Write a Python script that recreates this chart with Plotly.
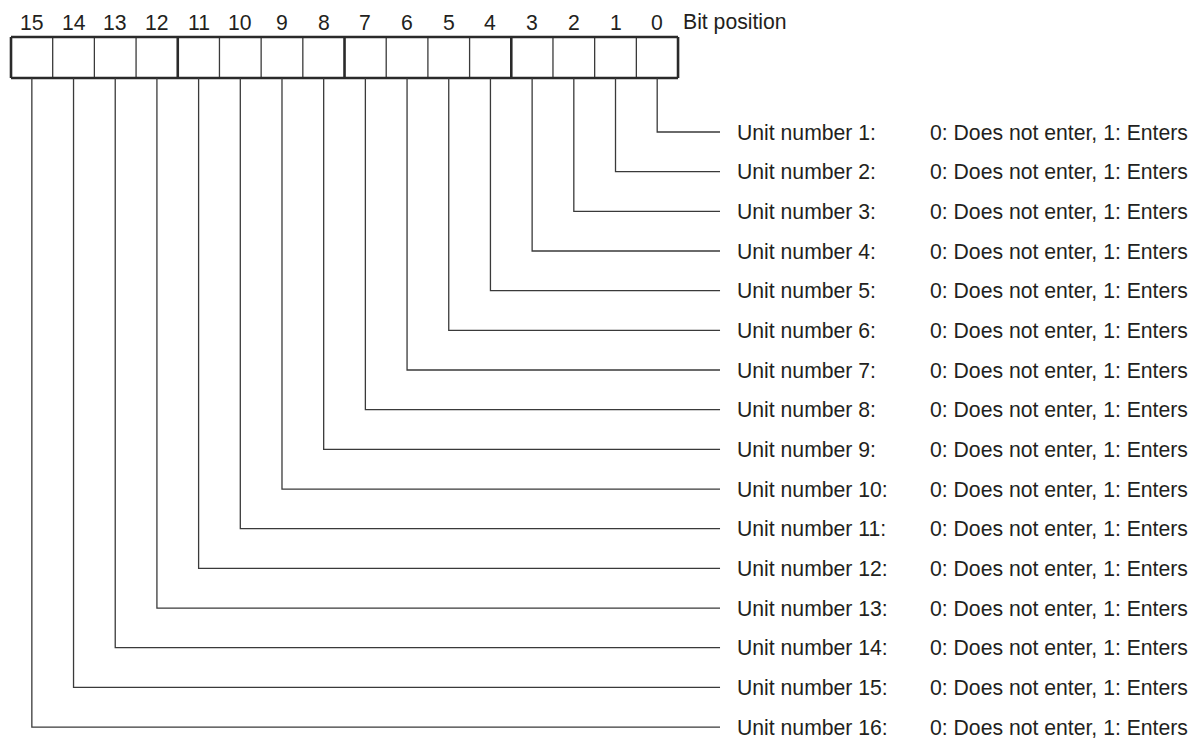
import plotly.graph_objects as go

# bit register layout: leftmost cell is bit 15
bit_positions = [15, 14, 13, 12, 11, 10, 9, 8, 7, 6, 5, 4, 3, 2, 1, 0]
unit_numbers = list(range(1, 17))
unit_labels = [f"Unit number {n}:" for n in unit_numbers]
unit_values = ["0: Does not enter, 1: Enters"] * 16
axis_title = "Bit position"

LINE = "#3a3a3a"
TEXT = "#231f20"
FONT = dict(family="Liberation Sans, Arial, Helvetica, sans-serif", size=21.2, color=TEXT)

BOX_TOP, BOX_BOTTOM = -1.395, -0.361
LEAD_END = 16.507

fig = go.Figure()

ncell = len(bit_positions)

# outer box and dividers (heavy every 4 bits)
for edge in range(ncell + 1):
    heavy = edge % 4 == 0
    fig.add_trace(go.Scatter(
        x=[edge - 0.5, edge - 0.5], y=[BOX_TOP, BOX_BOTTOM], mode="lines",
        line=dict(color="#2a2a2a" if heavy else LINE, width=2.6 if heavy else 1.3),
        hoverinfo="skip", showlegend=False))
for yy in (BOX_TOP, BOX_BOTTOM):
    fig.add_trace(go.Scatter(
        x=[-0.5, ncell - 0.5], y=[yy, yy], mode="lines",
        line=dict(color="#2a2a2a", width=2.6), hoverinfo="skip", showlegend=False))

# leader lines: unit n is driven by bit n-1
for n in unit_numbers:
    col = bit_positions.index(n - 1)
    fig.add_trace(go.Scatter(
        x=[col, col, LEAD_END], y=[BOX_BOTTOM, n, n], mode="lines",
        line=dict(color=LINE, width=1.3), hoverinfo="skip", showlegend=False))

annotations = []
for col, bit in enumerate(bit_positions):
    annotations.append(dict(x=col, y=-1.77, text=str(bit), showarrow=False,
                            xanchor="center", yanchor="middle", font=FONT))
annotations.append(dict(x=15.57, y=-1.77, text=axis_title, showarrow=False,
                        xanchor="left", yanchor="middle", font=FONT))
for n, lab, val in zip(unit_numbers, unit_labels, unit_values):
    annotations.append(dict(x=16.87, y=n, text=lab, showarrow=False,
                            xanchor="left", yanchor="middle", font=FONT))
    annotations.append(dict(x=21.49, y=n, text=val, showarrow=False,
                            xanchor="left", yanchor="middle", font=FONT))

# ranges allow for the page's 8px body margin
fig.update_layout(
    width=1197, height=739,
    margin=dict(l=0, r=0, t=0, b=0),
    paper_bgcolor="white", plot_bgcolor="white",
    xaxis=dict(range=[-0.572, 28.140], visible=False, fixedrange=True),
    yaxis=dict(range=[16.503, -2.1258], visible=False, fixedrange=True),
    annotations=annotations,
    showlegend=False,
)

fig.write_html("out.html")
